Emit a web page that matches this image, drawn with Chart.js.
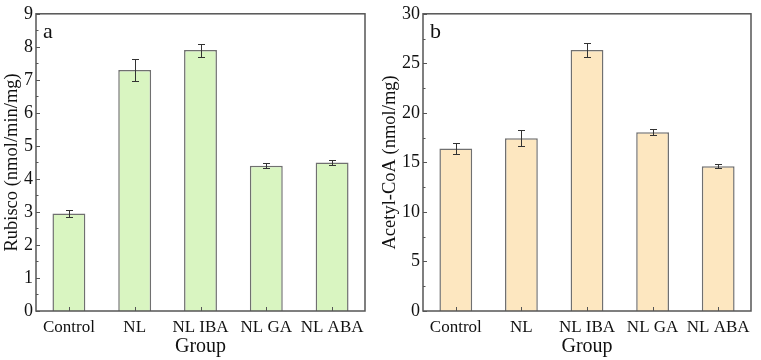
<!DOCTYPE html>
<html>
<head>
<meta charset="utf-8">
<script src="https://cdn.jsdelivr.net/npm/chart.js@4.4.1/dist/chart.umd.min.js"></script>
<style>
  html, body { margin: 0; padding: 0; background: #fff; }
  #wrap { position: relative; width: 761px; height: 360px; }
  canvas { position: absolute; top: 0; }
</style>
</head>
<body>
<div id="wrap">
  <canvas id="chartA" width="380" height="360" style="left:0"></canvas>
  <canvas id="chartB" width="381" height="360" style="left:380px"></canvas>
</div>
<script>
const groups = ['Control', 'NL', 'NL IBA', 'NL GA', 'NL ABA'];

const rubisco = [2.95, 7.3, 7.9, 4.4, 4.5];
const rubiscoErr = [0.11, 0.33, 0.2, 0.08, 0.07];

const acetylCoA = [16.4, 17.45, 26.35, 18.05, 14.6];
const acetylErr = [0.53, 0.83, 0.7, 0.33, 0.2];

const SERIF = '"Liberation Serif", "Times New Roman", serif';
const FRAME = '#555555';

// error bars, box frame, inward ticks and panel letter
const decorations = {
    id: 'decorations',
    afterDatasetsDraw(chart, args, opts) {
        const ctx = chart.ctx;
        const area = chart.chartArea;
        const x = chart.scales.x;
        const y = chart.scales.y;
        const meta = chart.getDatasetMeta(0);
        const values = chart.data.datasets[0].data;

        ctx.save();
        // error bars
        ctx.strokeStyle = '#333333';
        ctx.lineWidth = 1;
        meta.data.forEach((bar, i) => {
            const e = opts.errors[i];
            const yTop = Math.round(y.getPixelForValue(values[i] + e)) + 0.5;
            const yBot = Math.round(y.getPixelForValue(values[i] - e)) + 0.5;
            const cx = Math.round(bar.x) + 0.5;
            ctx.beginPath();
            ctx.moveTo(cx, yTop); ctx.lineTo(cx, yBot);
            ctx.moveTo(cx - 3.5, yTop); ctx.lineTo(cx + 3.5, yTop);
            ctx.moveTo(cx - 3.5, yBot); ctx.lineTo(cx + 3.5, yBot);
            ctx.stroke();
        });

        // frame
        ctx.strokeStyle = FRAME;
        ctx.lineWidth = 1.5;
        ctx.strokeRect(area.left, area.top, area.right - area.left, area.bottom - area.top);

        // y ticks (major + minor), pointing inside
        ctx.lineWidth = 1;
        const step = opts.step;
        for (let v = y.min; v <= y.max + 1e-9; v += step / 2) {
            const py = Math.round(y.getPixelForValue(v)) + 0.5;
            const major = Math.abs(v / step - Math.round(v / step)) < 1e-6;
            ctx.beginPath();
            ctx.moveTo(area.left, py);
            ctx.lineTo(area.left + (major ? 4 : 2.5), py);
            ctx.stroke();
        }
        // x ticks at category centres
        groups.forEach((g, i) => {
            const px = Math.round(x.getPixelForValue(i)) + 0.5;
            ctx.beginPath();
            ctx.moveTo(px, area.bottom);
            ctx.lineTo(px, area.bottom - 4);
            ctx.stroke();
        });

        // panel letter
        ctx.fillStyle = '#111111';
        ctx.font = '22px ' + SERIF;
        ctx.textBaseline = 'alphabetic';
        ctx.fillText(opts.letter, area.left + 7, area.top + 24);
        ctx.restore();
    }
};

function makeChart(id, values, errors, opts) {
    return new Chart(document.getElementById(id), {
        type: 'bar',
        data: {
            labels: groups,
            datasets: [{
                data: values,
                backgroundColor: opts.fill,
                borderColor: '#707070',
                borderWidth: 1.5,
                barPercentage: 0.5,
                categoryPercentage: 1.0
            }]
        },
        options: {
            responsive: false,
            animation: false,
            layout: { padding: { top: 9, right: opts.padRight, left: 0, bottom: 0 } },
            plugins: {
                legend: { display: false },
                tooltip: { enabled: false },
                decorations: { errors: errors, step: opts.step, letter: opts.letter }
            },
            scales: {
                x: {
                    grid: { display: false, drawTicks: false },
                    border: { display: false },
                    ticks: {
                        color: '#111111',
                        padding: 6,
                        maxRotation: 0,
                        autoSkip: false,
                        font: { family: SERIF, size: 17 }
                    },
                    title: {
                        display: true,
                        text: 'Group',
                        color: '#111111',
                        padding: { top: 0, bottom: 1 },
                        font: { family: SERIF, size: 20 }
                    },
                    afterFit(scale) { scale.height = 49; }
                },
                y: {
                    min: 0,
                    max: opts.max,
                    grid: { display: false, drawTicks: false },
                    border: { display: false },
                    ticks: {
                        stepSize: opts.step,
                        color: '#111111',
                        padding: 3,
                        font: { family: SERIF, size: 18 }
                    },
                    title: {
                        display: true,
                        text: opts.yTitle,
                        color: '#111111',
                        padding: { top: opts.titlePad, bottom: 0 },
                        font: { family: SERIF, size: 18.5 }
                    },
                    afterFit(scale) { scale.width = opts.yWidth; }
                }
            }
        },
        plugins: [decorations]
    });
}

makeChart('chartA', rubisco, rubiscoErr, {
    fill: '#d9f5c1', max: 9, step: 1, letter: 'a',
    yTitle: 'Rubisco (nmol/min/mg)', yWidth: 36, padRight: 15, titlePad: 1
});

makeChart('chartB', acetylCoA, acetylErr, {
    fill: '#fde7c0', max: 30, step: 5, letter: 'b',
    yTitle: 'Acetyl-CoA (nmol/mg)', yWidth: 43, padRight: 10, titlePad: -1
});
</script>
</body>
</html>
